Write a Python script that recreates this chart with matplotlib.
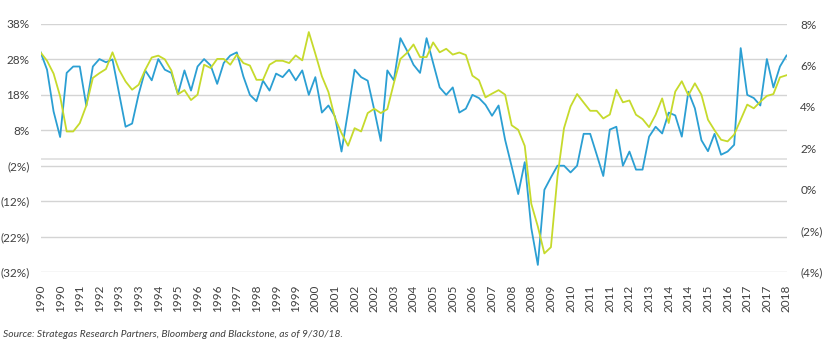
import matplotlib
matplotlib.use("Agg")
import matplotlib.pyplot as plt
import numpy as np

# quarterly, 1990 Q1 .. 2018 Q3
blue_vals = [30.1, 25.1, 13.3, 6.1, 24.2, 26, 26, 14.9, 26, 28.1, 27.2, 28,
             18.5, 9, 9.9, 18.2, 24.9, 22.1, 28.1, 25.1, 24.2, 18.2, 24.9, 19.2,
             26, 28.1, 26.3, 21.1, 27, 29.1, 30, 23.2, 18, 16.2, 22, 19.2,
             24, 23, 25.1, 22.1, 24.9, 18, 23, 13, 15, 11.9, 2, 13.3,
             25.1, 23, 22, 13.8, 5, 24.9, 22.1, 34, 30.5, 26.5, 24.2, 34,
             27, 20.1, 18, 20.1, 13, 14.1, 18, 17.1, 15.2, 12.1, 15, 5.3,
             -2.2, -10, -1, -19.6, -30, -8.8, -5.3, -2, -2, -3.9, -2, 7,
             7, 1.1, -4.9, 8.2, 9, -2, 2, -3.1, -3.1, 6.2, 9, 7.1,
             13, 12.2, 6.2, 18.9, 14.2, 5.2, 2.1, 7, 1.1, 2, 3.9, 31.2,
             18, 17.1, 15, 28.1, 20.1, 26, 29.1]

green_vals = [6.63, 6.22, 5.6, 4.5, 2.8, 2.8, 3.2, 4.05, 5.39, 5.62, 5.82, 6.63,
              5.79, 5.22, 4.82, 5.06, 5.78, 6.38, 6.47, 6.29, 5.75, 4.6, 4.8, 4.32,
              4.58, 6.03, 5.87, 6.31, 6.31, 6.03, 6.52, 6.11, 5.99, 5.3, 5.3, 6.03,
              6.22, 6.22, 6.11, 6.48, 6.24, 7.61, 6.56, 5.47, 4.71, 3.45, 2.72, 2.11,
              2.96, 2.8, 3.69, 3.9, 3.69, 3.88, 5.14, 6.31, 6.6, 7.01, 6.4, 6.4,
              7.11, 6.63, 6.8, 6.52, 6.62, 6.5, 5.5, 5.28, 4.45, 4.63, 4.8, 4.58,
              3.1, 2.88, 2.1, -0.7, -1.8, -3.1, -2.8, 0.62, 2.96, 4.01, 4.61, 4.2,
              3.8, 3.8, 3.43, 3.62, 4.82, 4.21, 4.3, 3.61, 3.4, 3.01, 3.61, 4.4,
              3.21, 4.73, 5.23, 4.55, 5.13, 4.58, 3.37, 2.86, 2.4, 2.32, 2.65, 3.37,
              4.1, 3.92, 4.24, 4.52, 4.61, 5.42, 5.52]

tick_labels = ["1990", "1990", "1991", "1992", "1993", "1993", "1994", "1995",
               "1996", "1996", "1997", "1998", "1999", "1999", "2000", "2001",
               "2002", "2002", "2003", "2004", "2005", "2005", "2006", "2007",
               "2008", "2008", "2009", "2010", "2011", "2011", "2012", "2013",
               "2014", "2014", "2015", "2016", "2017", "2017", "2018"]

left_ticks = [38, 28, 18, 8, -2, -12, -22, -32]
right_ticks = [8, 6, 4, 2, 0, -2, -4]

blue = "#2b9fd3"
green = "#c6da2c"
grid_col = "#d4d4d4"
text_col = "#404040"

plt.rcParams['font.family'] = ['Lato', 'DejaVu Sans']


def pct(v):
    return f"({abs(v)}%)" if v < 0 else f"{v}%"


x = np.arange(len(blue_vals))

fig = plt.figure(figsize=(8.39, 3.46), dpi=100)
ax = fig.add_axes([40.5 / 839, 1 - 272 / 346, (786.5 - 40.5) / 839, 248 / 346])
ax2 = ax.twinx()

# gridlines follow the left axis
for t in left_ticks:
    ax.axhline(t, color=grid_col, lw=1.0, zorder=0)
ax.axhline(0, color="#e0e0e0", lw=1.3, zorder=0)

ax.plot(x, blue_vals, color=blue, lw=1.3, zorder=3)
ax2.plot(x, green_vals, color=green, lw=1.3, zorder=2)

ax.set_xlim(0, len(blue_vals) - 1)
ax.set_ylim(-32, 38)
ax2.set_ylim(-4, 8)

ax.set_yticks(left_ticks)
ax.set_yticklabels([pct(t) for t in left_ticks])
ax2.set_yticks(right_ticks)
ax2.set_yticklabels([pct(t) for t in right_ticks])

ax.set_xticks(x[::3])
ax.set_xticklabels(tick_labels, rotation=90)

for a in (ax, ax2):
    for s in a.spines.values():
        s.set_visible(False)
    a.tick_params(length=0, labelsize=8.5, labelcolor=text_col)
ax.tick_params(axis="y", pad=8)
ax2.tick_params(axis="y", pad=10)
ax.tick_params(axis="x", pad=9)

fig.text(0.004, 0.025, "Source: Strategas Research Partners, Bloomberg and Blackstone, as of 9/30/18.",
         fontsize=7.4, style="italic", color=text_col)

fig.savefig("out.png", dpi=100)
